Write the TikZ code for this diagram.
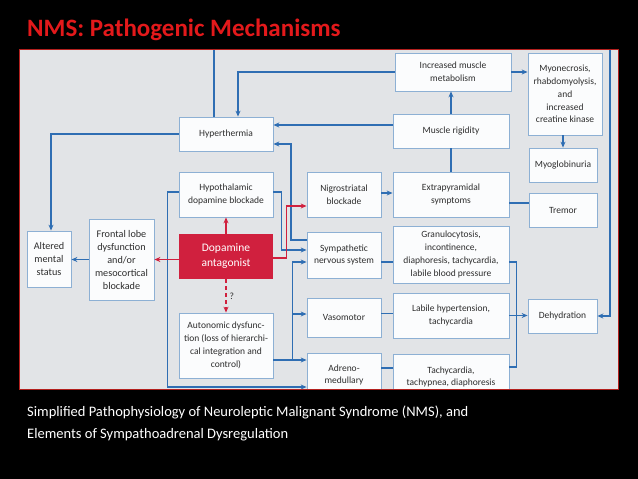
\documentclass[tikz,border=0pt]{standalone}
\usepackage{fontspec}
\setmainfont{Carlito}
\usetikzlibrary{arrows.meta}
\definecolor{panelbg}{HTML}{E2E4E7}
\definecolor{panelred}{HTML}{B3201E}
\definecolor{boxline}{HTML}{8DB0D4}
\definecolor{boxfill}{HTML}{FBFCFD}
\definecolor{blueln}{HTML}{2F6EB3}
\definecolor{redln}{HTML}{D0203E}
\definecolor{txt}{HTML}{2E2E2E}
\definecolor{titlered}{HTML}{E3191B}
\tikzset{
  bx/.style={draw=boxline, fill=boxfill, line width=0.8pt, align=center, inner sep=1pt, text=txt, font=\fontsize{9.5}{12.8}\selectfont},
  ln/.style={draw=blueln, line width=1.3pt},
  arr/.style={ln, -{Stealth[length=6pt,width=5pt]}},
  rarr/.style={draw=redln, line width=1.3pt, -{Stealth[length=6pt,width=5pt]}},
}
\begin{document}
\begin{tikzpicture}[x=1pt,y=-1pt]
\fill[black] (0,0) rectangle (638,479);
\useasboundingbox (0,0) rectangle (638,479);
\node[anchor=base west, text=titlered, font=\fontsize{25}{30}\selectfont\bfseries, inner sep=0pt] (title) at (27,36) {NMS: Pathogenic Mechanisms};
\node[anchor=north west, text=white, align=left, font=\fontsize{14.5}{22}\selectfont, inner sep=0pt] (caption) at (27,406) {Simplified Pathophysiology of Neuroleptic Malignant Syndrome (NMS), and\\Elements of Sympathoadrenal Dysregulation};
\fill[panelbg] (19,49) rectangle (618,389);
\begin{scope}
\clip (19,49) rectangle (618,389);
% boxes
\node[bx, minimum width=116pt, minimum height=38pt] (metab) at (453,72) {Increased muscle\\metabolism};
\node[bx, minimum width=74pt, minimum height=82pt] (myo) at (565,94) {Myonecrosis,\\rhabdomyolysis,\\and\\increased\\creatine kinase};
\node[bx, minimum width=116pt, minimum height=34pt] (rigid) at (451,131) {Muscle rigidity};
\node[bx, minimum width=68pt, minimum height=34pt] (myoglob) at (563,165) {Myoglobinuria};
\node[bx, minimum width=116pt, minimum height=45pt] (extra) at (451,194.5) {Extrapyramidal\\symptoms};
\node[bx, minimum width=68pt, minimum height=34pt] (tremor) at (563,210) {Tremor};
\node[bx, minimum width=116pt, minimum height=57pt] (granulo) at (451,254.5) {Granulocytosis,\\incontinence,\\diaphoresis, tachycardia,\\labile blood pressure};
\node[bx, minimum width=116pt, minimum height=45pt] (labile) at (451,315.5) {Labile hypertension,\\tachycardia};
\node[bx, minimum width=116pt, minimum height=46pt] (tachy) at (451,377) {Tachycardia,\\tachypnea, diaphoresis};
\node[bx, minimum width=69pt, minimum height=34pt] (dehyd) at (562.5,316) {Dehydration};
\node[bx, minimum width=94pt, minimum height=34pt] (hyper) at (226,134) {Hyperthermia};
\node[bx, minimum width=94pt, minimum height=45pt] (hypoth) at (226,194.5) {Hypothalamic\\dopamine blockade};
\node[bx, minimum width=74pt, minimum height=45pt] (nigro) at (344,194.5) {Nigrostriatal\\blockade};
\node[bx, draw=none, fill=redln, text=white, font=\fontsize{11.5}{15}\selectfont, minimum width=94pt, minimum height=45pt] (dopa) at (226,256.5) {Dopamine\\antagonist};
\node[bx, minimum width=74pt, minimum height=46pt] (symp) at (344,255) {Sympathetic\\nervous system};
\node[bx, minimum width=74pt, minimum height=39pt] (vaso) at (344,317.5) {Vasomotor};
\node[bx, minimum width=94pt, minimum height=65pt] (auto) at (226,345.5) {Autonomic dysfunc-\\tion (loss of hierarchi-\\cal integration and\\control)};
\node[bx, minimum width=74pt, minimum height=44pt] (adreno) at (344,375) {Adreno-\\medullary};
\node[bx, font=\fontsize{10.2}{13}\selectfont, minimum width=65pt, minimum height=81pt] (frontal) at (121.5,259.5) {Frontal lobe\\dysfunction\\and/or\\mesocortical\\blockade};
\node[bx, font=\fontsize{10.2}{13}\selectfont, minimum width=44pt, minimum height=56pt] (altered) at (49,259) {Altered\\mental\\status};
% free ends at the cut edge
\coordinate (top1) at (214,49);
\coordinate (top2) at (610,49);
% blue connectors
\draw[ln] (top1) -- (top1 |- hyper.north);
\draw[arr] (metab.west) -| ([xshift=12pt]hyper.north);
\draw[arr] ([yshift=6pt]rigid.west) -- ([yshift=6pt]rigid.west -| hyper.east);
\draw[arr] ([yshift=15pt]symp.west) -- ++(-15.5,0) |- ([yshift=-10pt]hyper.east);
\draw[arr] ([yshift=2.5pt]hypoth.east) -- ++(8,0) |- ([yshift=5pt]symp.west);
\draw[arr] ([yshift=2.5pt]hypoth.west) -- ++(-11,0) |- ([yshift=-12pt]adreno.west);
\draw[arr] (frontal.west) -- (frontal.west -| altered.east);
\draw[arr] (hyper.west) -| ([xshift=2pt]altered.north);
\draw[arr] ([yshift=1.5pt]nigro.east) -- ([yshift=1.5pt]nigro.east -| extra.west);
\draw[ln] (extra.north) -- (extra.north |- rigid.south);
\draw[arr] (rigid.north) -- (rigid.north |- metab.south);
\draw[arr] (metab.east) -- (metab.east -| myo.west);
\draw[arr] (myoglob.north |- myo.south) -- (myoglob.north);
\draw[ln] ([yshift=-8.5pt]extra.east) -- ([yshift=-8.5pt]extra.east -| tremor.west);
\draw[arr] (top2) |- (dehyd.east);
\draw[ln] ([yshift=-7pt]symp.east) -- ([yshift=-7pt]symp.east -| granulo.west);
\draw[ln] ([yshift=4pt]vaso.east) -- ([yshift=4pt]vaso.east -| labile.west);
\draw[ln] ([yshift=7pt]adreno.east) -- ([yshift=7pt]adreno.east -| tachy.west);
\draw[ln] ([yshift=-7.5pt]granulo.east) -- ++(7,0) |- ([yshift=10pt]tachy.east);
\draw[arr] (labile.east) -- (labile.east -| dehyd.west);
\coordinate (b2) at ([xshift=19pt,yshift=-14.5pt]auto.east);
\draw[arr] ([yshift=-14.5pt]auto.east) -- ([yshift=-14.5pt]auto.east -| adreno.west);
\draw[arr] (b2) |- ([yshift=-7pt]symp.west);
\draw[arr] (b2) |- ([yshift=3.5pt]vaso.west);
% red connectors
\draw[rarr] (dopa.north) -- (hypoth.south);
\draw[rarr] (dopa.west |- frontal.east) -- (frontal.east);
\draw[rarr] ([yshift=-1.5pt]dopa.east) -- ++(13,0) |- ([yshift=-11.5pt]nigro.west);
\draw[rarr, dash pattern=on 4pt off 3pt] (dopa.south) -- node[right, text=txt, font=\fontsize{9.5}{10}\selectfont, inner sep=3pt] {?} (auto.north);
\end{scope}
\draw[panelred, line width=1pt] (19,49) rectangle (618,389);
\end{tikzpicture}
\end{document}
